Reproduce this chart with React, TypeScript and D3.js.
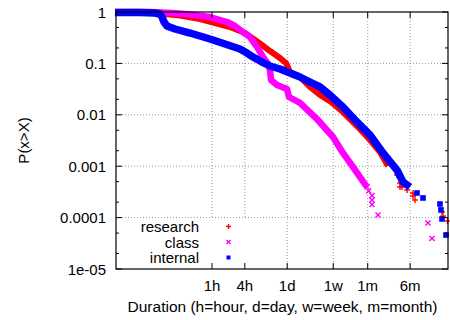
import React from "react";
import * as d3 from "d3";

// Duration in hours, probability P(x>X)
const researchCurveH = [0.0166, 0.0477, 0.111, 0.259, 0.602, 1.135, 2.14, 4.03, 6.15, 8.27, 11.6, 17.7, 22.8, 27.0, 41.2, 62.8, 95.9, 146, 253, 458, 793, 1210, 1696];
const researchCurveP = [1.0, 0.987, 0.935, 0.855, 0.731, 0.611, 0.511, 0.39, 0.285, 0.228, 0.174, 0.127, 0.102, 0.068, 0.0544, 0.0348, 0.0243, 0.0185, 0.0113, 0.00605, 0.00323, 0.00189, 0.00101];
const researchTailH = [2478, 2815, 2815, 3064, 3788, 4877, 4877, 5309, 16600, 17330, 21000];
const researchTailP = [0.000675, 0.000471, 0.000394, 0.000394, 0.000344, 0.000301, 0.000262, 0.00022, 0.000129, 0.000107, 0.0000859];

const classCurveH = [0.0166, 0.0728, 0.192, 0.395, 0.919, 1.88, 2.64, 3.7, 4.98, 6.69, 8.62, 10.7, 11.6, 12.1, 15.6, 23.8, 25.9, 41.2, 84.5, 166, 253, 387, 520, 698];
const classCurveP = [1.0, 1.0, 0.956, 0.894, 0.799, 0.639, 0.534, 0.408, 0.326, 0.209, 0.133, 0.0973, 0.0744, 0.0475, 0.038, 0.0318, 0.0222, 0.017, 0.00828, 0.0037, 0.00181, 0.000965, 0.000616, 0.000394];
const classTailH = [698, 750, 862, 862, 862, 1111, 9190, 10890];
const classTailP = [0.000394, 0.00033, 0.00027, 0.00022, 0.00018, 0.000112, 0.0000785, 0.0000392];

const internalCurveH = [0.0166, 0.0477, 0.09, 0.111, 0.121, 0.132, 0.149, 0.21, 0.395, 0.919, 1.97, 3.26, 4.39, 5.65, 8.27, 11.6, 17.7, 27.0, 41.2, 62.8, 95.9, 146, 253, 458, 793, 1373, 2478, 3197, 4296];
const internalCurveP = [0.978, 0.978, 0.956, 0.914, 0.799, 0.639, 0.534, 0.467, 0.39, 0.298, 0.228, 0.191, 0.159, 0.133, 0.106, 0.089, 0.0778, 0.0651, 0.0544, 0.0435, 0.0348, 0.0243, 0.0142, 0.00724, 0.00405, 0.00181, 0.000843, 0.000493, 0.000394];
const internalTailH = [5774, 7441, 15250, 15910, 16600, 19660];
const internalTailP = [0.000301, 0.000241, 0.000184, 0.000141, 0.000094, 0.0000458];

const xTickValues = [1, 4, 24, 168, 720, 4320];
const xTickLabels = ["1h", "4h", "1d", "1w", "1m", "6m"];
const yTickValues = [1, 0.1, 0.01, 0.001, 0.0001, 0.00001];
const yTickLabels = ["1", "0.1", "0.01", "0.001", "0.0001", "1e-05"];
const yMinorValues = [0.5, 0.2, 0.05, 0.02, 0.005, 0.002, 0.0005, 0.0002, 0.00005, 0.00002];
const seriesNames = ["research", "class", "internal"];

const W = 450, H = 320;
const L = 116, R = 448, T = 12, B = 269;
const FONT = "'Liberation Sans', Arial, Helvetica, sans-serif";

export default function App() {
  const x = d3.scaleLog().domain([0.01733, 21400]).range([L, R]);
  const y = d3.scaleLog().domain([1e-5, 1]).range([B, T]);
  const line = d3.line<[number, number]>().x((d) => x(d[0])).y((d) => y(d[1]));
  const zip = (a: number[], b: number[]) => a.map((v, i) => [v, b[i]] as [number, number]);

  const gridColor = "#999";
  const plus = (cx: number, cy: number, s: number, c: string, k: string) => (
    <g key={k} stroke={c} strokeWidth={1.4}>
      <line x1={cx - s} x2={cx + s} y1={cy} y2={cy} />
      <line x1={cx} x2={cx} y1={cy - s} y2={cy + s} />
    </g>
  );
  const cross = (cx: number, cy: number, s: number, c: string, k: string) => (
    <g key={k} stroke={c} strokeWidth={1.4}>
      <line x1={cx - s} x2={cx + s} y1={cy - s} y2={cy + s} />
      <line x1={cx - s} x2={cx + s} y1={cy + s} y2={cy - s} />
    </g>
  );
  const square = (cx: number, cy: number, s: number, c: string, k: string) => (
    <rect key={k} x={cx - s} y={cy - s} width={2 * s} height={2 * s} fill={c} />
  );

  return (
    <svg width={W} height={H} style={{ position: "absolute", left: 0, top: 0, background: "#fff" }} fontFamily={FONT} fontSize={15}>
      <rect x={0} y={0} width={W} height={H} fill="#fff" />
      {/* grid */}
      {yTickValues.slice(1, -1).map((v, i) => (
        <line key={"gy" + i} x1={L} x2={R} y1={y(v)} y2={y(v)} stroke={gridColor} strokeDasharray="1,2" />
      ))}
      {xTickValues.map((v, i) => (
        <line key={"gx" + i} x1={x(v)} x2={x(v)} y1={T} y2={B} stroke={gridColor} strokeDasharray="1,2" />
      ))}
      {/* key box */}
      <rect x={L + 1} y={y(1e-4) + 1} width={145} height={B - y(1e-4) - 2} fill="#fff" />
      {/* curves */}
      <path d={line(zip(researchCurveH, researchCurveP)) || ""} fill="none" stroke="#ff0000" strokeWidth={6} strokeLinejoin="round" />
      {zip(researchTailH, researchTailP).map((d, i) => plus(x(d[0]), y(d[1]), 3, "#ff0000", "rt" + i))}
      <path d={line(zip(classCurveH, classCurveP)) || ""} fill="none" stroke="#ff00ff" strokeWidth={6.5} strokeLinejoin="round" />
      {zip(classTailH, classTailP).map((d, i) => cross(x(d[0]), y(d[1]), 2.5, "#ff00ff", "ct" + i))}
      <path d={line(zip(internalCurveH, internalCurveP)) || ""} fill="none" stroke="#0000ff" strokeWidth={7.5} strokeLinejoin="round" />
      {zip(internalTailH, internalTailP).map((d, i) => square(x(d[0]), y(d[1]), 2.8, "#0000ff", "it" + i))}
      {/* frame */}
      <rect x={L} y={T} width={R - L} height={B - T} fill="none" stroke="#000" strokeWidth={1.2} />
      {yTickValues.map((v, i) => (
        <g key={"yt" + i}>
          <line x1={L} x2={L + 6} y1={y(v)} y2={y(v)} stroke="#000" />
          <line x1={R} x2={R - 6} y1={y(v)} y2={y(v)} stroke="#000" />
          <text x={L - 10} y={y(v) + 5.5} textAnchor="end">{yTickLabels[i]}</text>
        </g>
      ))}
      {yMinorValues.map((v, i) => (
        <g key={"ym" + i}>
          <line x1={L} x2={L + 3} y1={y(v)} y2={y(v)} stroke="#000" />
          <line x1={R} x2={R - 3} y1={y(v)} y2={y(v)} stroke="#000" />
        </g>
      ))}
      {xTickValues.map((v, i) => (
        <g key={"xt" + i}>
          <line x1={x(v)} x2={x(v)} y1={B} y2={B - 6} stroke="#000" />
          <line x1={x(v)} x2={x(v)} y1={T} y2={T + 6} stroke="#000" />
          <text x={x(v)} y={291} textAnchor="middle">{xTickLabels[i]}</text>
        </g>
      ))}
      <text x={282.5} y={312} textAnchor="middle" fontSize={15.5}>Duration (h=hour, d=day, w=week, m=month)</text>
      <text transform={`translate(29,${(T + B) / 2}) rotate(-90)`} textAnchor="middle">P(x&gt;X)</text>
      {/* legend */}
      {seriesNames.map((n, i) => (
        <text key={"lg" + i} x={199} y={232 + i * 15.5} textAnchor="end">{n}</text>
      ))}
      {plus(228.5, 226.5, 2.5, "#ff0000", "lp0")}
      {cross(228.5, 242, 2, "#ff00ff", "lp1")}
      {square(228.5, 257.5, 2, "#0000ff", "lp2")}
    </svg>
  );
}
